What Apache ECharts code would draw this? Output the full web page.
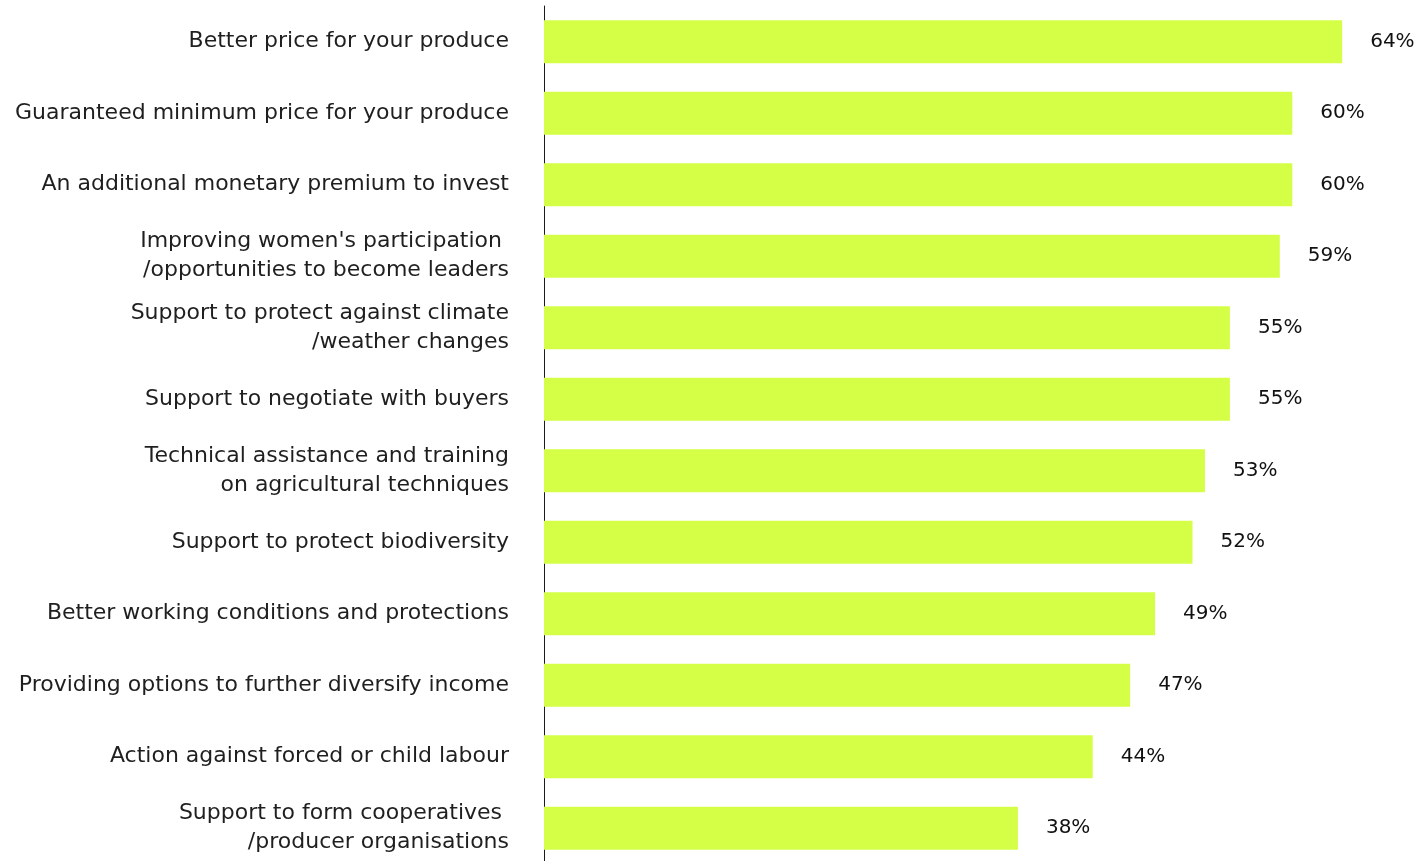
<!DOCTYPE html>
<html>
<head>
<meta charset="utf-8">
<style>
  html, body { margin: 0; padding: 0; background: #ffffff; overflow: hidden; }
  #chart { width: 1418px; height: 864px; }
</style>
<script src="https://cdn.jsdelivr.net/npm/echarts@6/dist/echarts.min.js"></script>
</head>
<body>
<div id="chart"></div>
<script>
// Benefits named by producers, share of respondents (%), top to bottom
const categories = [
  'Better price for your produce',
  'Guaranteed minimum price for your produce',
  'An additional monetary premium to invest',
  "Improving women's participation \n/opportunities to become leaders",
  'Support to protect against climate\n/weather changes',
  'Support to negotiate with buyers',
  'Technical assistance and training\non agricultural techniques',
  'Support to protect biodiversity',
  'Better working conditions and protections',
  'Providing options to further diversify income',
  'Action against forced or child labour',
  'Support to form cooperatives \n/producer organisations'
];
const values = [64, 60, 60, 59, 55, 55, 53, 52, 49, 47, 44, 38];

const chart = echarts.init(document.getElementById('chart'), null, { renderer: 'canvas' });

chart.setOption({
  animation: false,
  backgroundColor: '#ffffff',
  grid: { left: 544, right: 1, top: 6, bottom: 0, containLabel: false },
  xAxis: {
    type: 'value',
    min: 0,
    max: 70,
    show: false
  },
  yAxis: {
    type: 'category',
    inverse: true,
    data: categories,
    axisLine: { show: true, lineStyle: { color: '#1a1a1a', width: 1 } },
    axisTick: { show: false },
    axisLabel: {
      margin: 35,
      color: '#1f1f1f',
      fontFamily: 'DejaVu Sans',
      fontWeight: 'normal',
      fontSize: 22,
      lineHeight: 29,
      align: 'right'
    }
  },
  series: [{
    type: 'bar',
    data: values,
    barCategoryGap: '40%',
    itemStyle: { color: '#d5ff47' },
    label: {
      show: true,
      position: 'right',
      distance: 28,
      formatter: '{c}%',
      color: '#111111',
      fontFamily: 'DejaVu Sans',
      fontSize: 20
    }
  }]
});
</script>
</body>
</html>
